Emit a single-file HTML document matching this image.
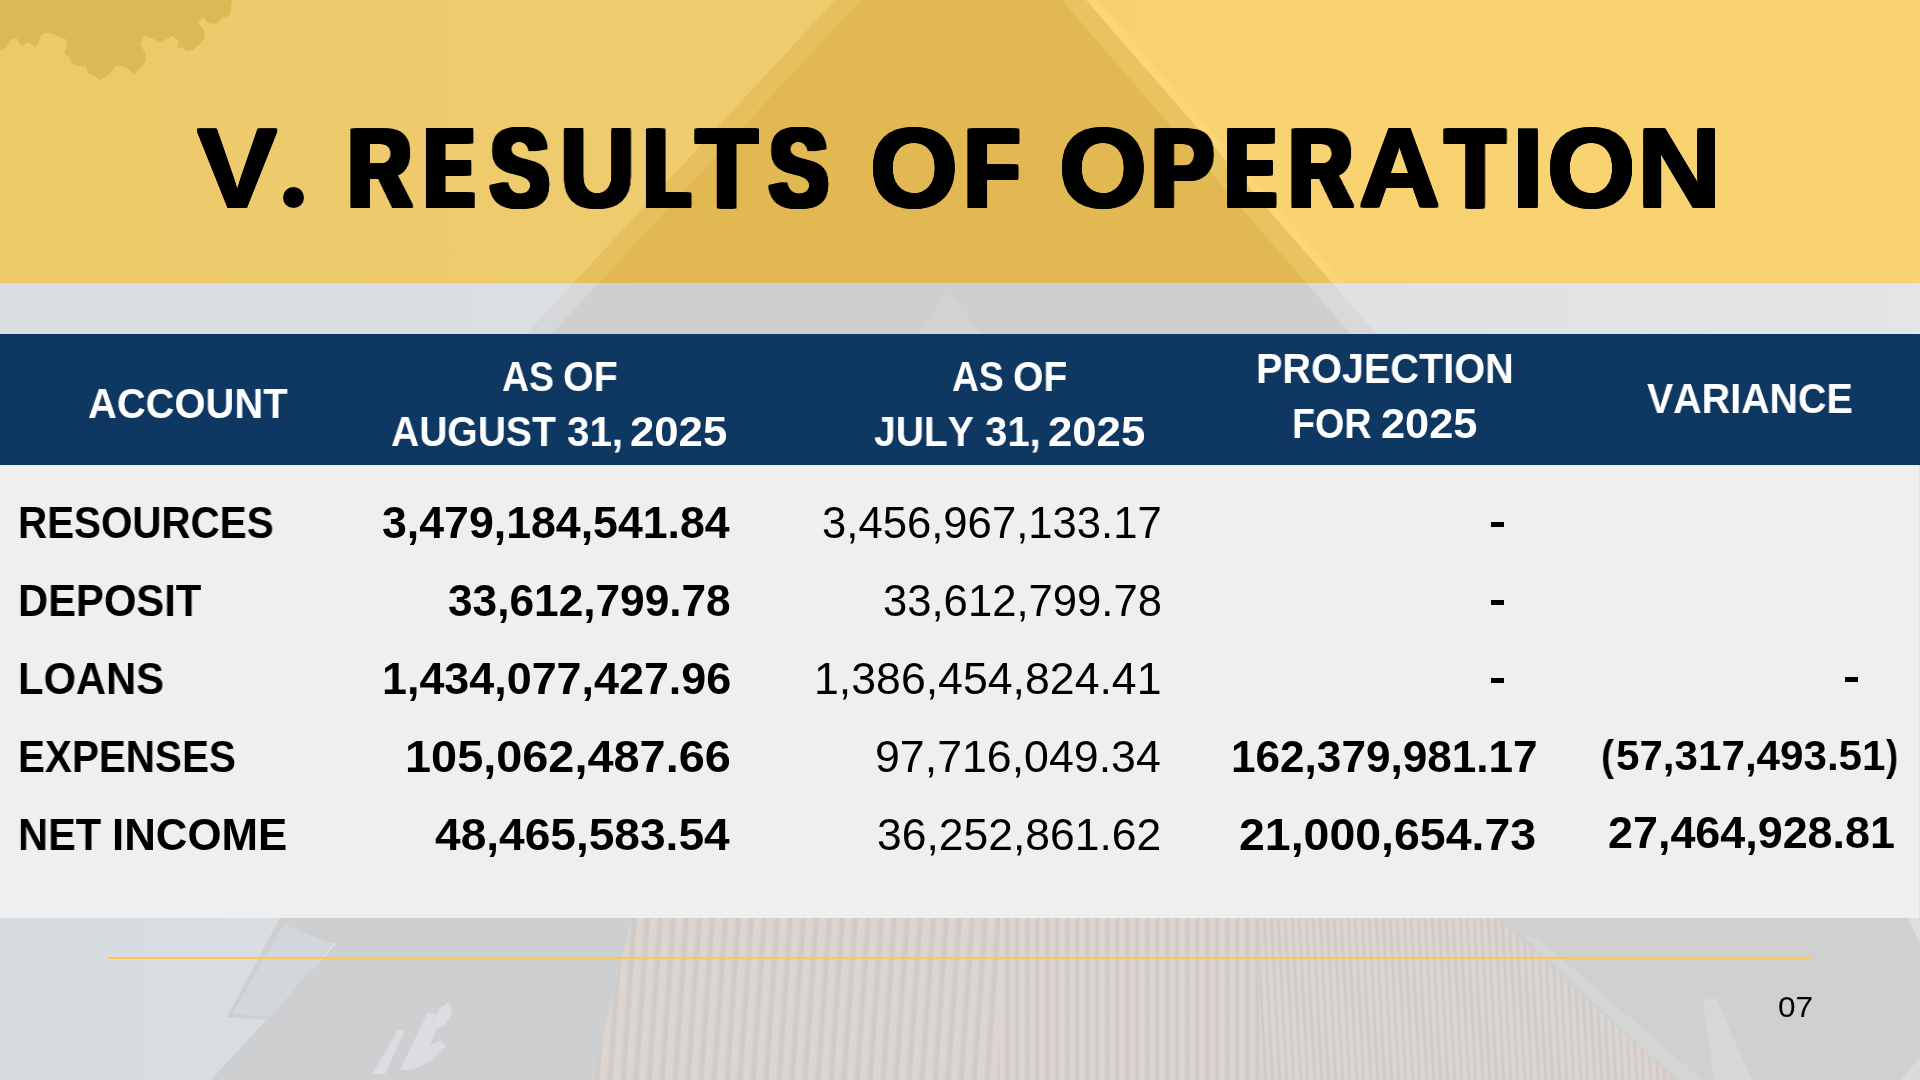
<!DOCTYPE html>
<html lang="en"><head><meta charset="utf-8"><title>V. Results of Operation</title>
<style>
html,body{margin:0;padding:0}
body{width:1920px;height:1080px;overflow:hidden;position:relative;background:#e2e4e6;
 font-family:"Liberation Sans",sans-serif;font-kerning:none;font-variant-ligatures:none;color:#000}
#bg{position:absolute;left:0;top:0;width:1920px;height:1080px;display:block}
#hdr{position:absolute;left:0;top:334px;width:1920px;height:130.6px;background:#0e3762}
#panel{position:absolute;left:0;top:464.6px;width:1918.7px;height:453.4px;background:#efefef}
#rule{position:absolute;left:108px;top:957px;width:1704px;height:2px;background:#fdc94e}
h1{margin:0;padding:0;font-size:0;font-weight:700}
.t{position:absolute;will-change:transform;white-space:pre;transform-origin:0 0;margin:0;padding:0;display:block}
.b{font-weight:700}.r{font-weight:400}.w{color:#fff}
.dot{position:absolute;background:#000;border-radius:50%;color:transparent;font-size:1px;line-height:1;overflow:hidden}
.dash{position:absolute;background:#000;color:transparent;font-size:1px;line-height:1;overflow:hidden}
</style></head>
<body>
<svg id="bg" width="1920" height="1080" viewBox="0 0 1920 1080" aria-hidden="true">
<defs>
<linearGradient id="gBand" x1="0" y1="0" x2="1920" y2="0" gradientUnits="userSpaceOnUse">
<stop offset="0" stop-color="#edc96a"/><stop offset="0.42" stop-color="#efcc6e"/><stop offset="0.6" stop-color="#f8d270"/><stop offset="1" stop-color="#f9d371"/>
</linearGradient>
<linearGradient id="gStrip" x1="0" y1="0" x2="1920" y2="0" gradientUnits="userSpaceOnUse">
<stop offset="0" stop-color="#d9dce0"/><stop offset="0.3" stop-color="#dcdfe2"/><stop offset="0.72" stop-color="#e0e1e2"/><stop offset="1" stop-color="#e4e5e6"/>
</linearGradient>
<linearGradient id="gSky" x1="0" y1="0" x2="340" y2="0" gradientUnits="userSpaceOnUse">
<stop offset="0" stop-color="#d6dbe0"/><stop offset="1" stop-color="#dadee2"/>
</linearGradient>
<linearGradient id="gSl" x1="0" y1="0" x2="1" y2="0"><stop offset="0" stop-color="#ddd6d0"/><stop offset="0.42" stop-color="#dcd5cf"/><stop offset="0.62" stop-color="#d0cbc8"/><stop offset="0.88" stop-color="#d0cbc8"/><stop offset="1" stop-color="#ddd6d0"/></linearGradient>
<pattern id="slatA" width="13" height="10" patternUnits="userSpaceOnUse" patternTransform="skewX(-4)">
<rect width="13" height="10" fill="url(#gSl)"/>
</pattern>
<pattern id="slatB" width="10" height="10" patternUnits="userSpaceOnUse">
<rect width="10" height="10" fill="url(#gSl)"/>
</pattern>
<pattern id="slatC" width="7" height="10" patternUnits="userSpaceOnUse" patternTransform="skewX(3)">
<rect width="7" height="10" fill="url(#gSl)"/>
</pattern>
</defs>
<!-- yellow title band over faded photo -->
<rect x="0" y="0" width="1920" height="283.5" fill="url(#gBand)"/>
<polygon points="825,0 835,0 573,283.5 563,283.5" fill="#eecc6e"/>
<polygon points="1086,0 1097,0 1344,283.5 1332.6,283.5" fill="#fad676"/>
<polygon points="835,0 860,0 598,283.5 573,283.5" fill="#e7c05d"/>
<polygon points="1062,0 1086,0 1332.6,283.5 1307,283.5" fill="#e9c35f"/>
<polygon points="860,0 1062,0 1307,283.5 598,283.5" fill="#e1b851"/>
<!-- foliage, top-left -->
<path id="leaf" fill="#ddb955" d="M0,0 L232,0 L231,8 L229,16 L222,18 L216,24 L208,23 L203,17 L198,22 L204,30 L205,37 L200,44 L193,50 L187,51 L181,47 L177,49 L179,41 L172,36 L165,40 L160,43 L152,38 L143,36 L140,45 L145,52 L146,61 L140,68 L134,74 L129,70 L123,66 L116,66 L110,74 L103,78 L99,81 L95,76 L88,73 L86,67 L78,66 L72,64 L70,58 L64,53 L66,47 L67,40 L58,36 L50,33 L44,33 L40,37 L38,44 L35,47 L28,42 L22,46 L18,42 L17,38 L10,40 L5,48 L0,51 Z"/>
<!-- pale strip between band and table header -->
<rect x="0" y="283.5" width="1920" height="51" fill="url(#gStrip)"/>
<polygon points="573,283.5 598,283.5 551,334.5 526,334.5" fill="#d6d7d9"/>
<polygon points="1307,283.5 1332.6,283.5 1377,334.5 1351,334.5" fill="#d9d9da"/>
<polygon points="598,283.5 1307,283.5 1351,334.5 551,334.5" fill="#cfcfcf"/>
<polygon points="948,292 918,334.5 982,334.5" fill="#d3d3d3"/>
<!-- footer: faded building photo -->
<rect x="0" y="918" width="1920" height="162" fill="#d0d0d0"/>
<rect x="0" y="918" width="345" height="162" fill="url(#gSky)"/>
<polygon points="280,918 640,918 600,1080 211,1080 337,943 333,943 270,1020 227,1017" fill="#cecfd1"/>
<polygon points="284,924 331,944 271,1017 232,1014" fill="#d3d7db"/>
<path d="M372,1074 L398,1030 L405,1030 L385,1074 Z M400,1070 L428,1012 L436,1014 L424,1040 L440,1008 L449,1002 L452,1012 L446,1024 L436,1030 L430,1046 L440,1040 L446,1046 L430,1062 L412,1070 Z" fill="#dcdde0"/>
<polygon points="632,918 1000,918 1000,1080 592,1080" fill="url(#slatA)"/>
<rect x="1000" y="918" width="260" height="162" fill="url(#slatB)"/>
<polygon points="1260,918 1496,918 1676,1080 1260,1080" fill="url(#slatC)"/>
<polygon points="1522,935 1540,940 1702,1080 1678,1080" fill="#d4d6d6"/>
<polygon points="1703,1000 1716,998 1752,1080 1714,1080" fill="#d6d8d8"/>
<polygon points="1900,1080 1920,1058 1920,1080" fill="#dadcdc"/>
<polygon points="1908,918 1920,918 1920,944" fill="#dddfdf"/>
</svg>

<div id="hdr"></div>
<div id="panel"></div>
<div id="rule"></div>
<h1><span class="t b" style="left:197.36px;top:106px;font-size:111.92px;line-height:125px;transform:scaleX(1.0755);text-shadow:0.91px 0px 0 #000,-0.91px 0px 0 #000,0.00px -2px 0 #000,0.91px -2px 0 #000,-0.91px -2px 0 #000,0.00px 1px 0 #000,0.91px 1px 0 #000,-0.91px 1px 0 #000,0.00px -1px 0 #000,0.91px -1px 0 #000,-0.91px -1px 0 #000">V</span><span class="dot" style="left:282.8px;top:186.6px;width:21.4px;height:21.4px">.</span> <span class="t b" style="left:347.72px;top:106px;font-size:111.92px;line-height:125px;transform:scaleX(0.7866);text-shadow:2.10px 0px 0 #000,4.21px 0px 0 #000,-2.10px 0px 0 #000,-4.21px 0px 0 #000,0.00px -2px 0 #000,2.10px -2px 0 #000,4.21px -2px 0 #000,-2.10px -2px 0 #000,-4.21px -2px 0 #000,0.00px 1px 0 #000,2.10px 1px 0 #000,4.21px 1px 0 #000,-2.10px 1px 0 #000,-4.21px 1px 0 #000,0.00px -1px 0 #000,2.10px -1px 0 #000,4.21px -1px 0 #000,-2.10px -1px 0 #000,-4.21px -1px 0 #000">R</span><span class="t b" style="left:425.56px;top:106px;font-size:111.92px;line-height:125px;transform:scaleX(0.6235);text-shadow:2.47px 0px 0 #000,4.94px 0px 0 #000,7.42px 0px 0 #000,-2.47px 0px 0 #000,-4.94px 0px 0 #000,-7.42px 0px 0 #000,0.00px -2px 0 #000,2.47px -2px 0 #000,4.94px -2px 0 #000,7.42px -2px 0 #000,-2.47px -2px 0 #000,-4.94px -2px 0 #000,-7.42px -2px 0 #000,0.00px 1px 0 #000,2.47px 1px 0 #000,4.94px 1px 0 #000,7.42px 1px 0 #000,-2.47px 1px 0 #000,-4.94px 1px 0 #000,-7.42px 1px 0 #000,0.00px -1px 0 #000,2.47px -1px 0 #000,4.94px -1px 0 #000,7.42px -1px 0 #000,-2.47px -1px 0 #000,-4.94px -1px 0 #000,-7.42px -1px 0 #000">E</span><span class="t b" style="left:489.55px;top:106px;font-size:111.92px;line-height:125px;transform:scaleX(0.7971);text-shadow:2.02px 0px 0 #000,4.05px 0px 0 #000,-2.02px 0px 0 #000,-4.05px 0px 0 #000,0.00px -2px 0 #000,2.02px -2px 0 #000,4.05px -2px 0 #000,-2.02px -2px 0 #000,-4.05px -2px 0 #000,0.00px 1px 0 #000,2.02px 1px 0 #000,4.05px 1px 0 #000,-2.02px 1px 0 #000,-4.05px 1px 0 #000,0.00px -1px 0 #000,2.02px -1px 0 #000,4.05px -1px 0 #000,-2.02px -1px 0 #000,-4.05px -1px 0 #000">S</span><span class="t b" style="left:559.55px;top:106px;font-size:111.92px;line-height:125px;transform:scaleX(0.9267);text-shadow:2.35px 0px 0 #000,-2.35px 0px 0 #000,0.00px -2px 0 #000,2.35px -2px 0 #000,-2.35px -2px 0 #000,0.00px 1px 0 #000,2.35px 1px 0 #000,-2.35px 1px 0 #000,0.00px -1px 0 #000,2.35px -1px 0 #000,-2.35px -1px 0 #000">U</span><span class="t b" style="left:645.54px;top:106px;font-size:111.92px;line-height:125px;transform:scaleX(0.6245);text-shadow:2.46px 0px 0 #000,4.93px 0px 0 #000,7.39px 0px 0 #000,-2.46px 0px 0 #000,-4.93px 0px 0 #000,-7.39px 0px 0 #000,0.00px -2px 0 #000,2.46px -2px 0 #000,4.93px -2px 0 #000,7.39px -2px 0 #000,-2.46px -2px 0 #000,-4.93px -2px 0 #000,-7.39px -2px 0 #000,0.00px 1px 0 #000,2.46px 1px 0 #000,4.93px 1px 0 #000,7.39px 1px 0 #000,-2.46px 1px 0 #000,-4.93px 1px 0 #000,-7.39px 1px 0 #000,0.00px -1px 0 #000,2.46px -1px 0 #000,4.93px -1px 0 #000,7.39px -1px 0 #000,-2.46px -1px 0 #000,-4.93px -1px 0 #000,-7.39px -1px 0 #000">L</span><span class="t b" style="left:696.37px;top:106px;font-size:111.92px;line-height:125px;transform:scaleX(0.8999);text-shadow:1.33px 0px 0 #000,2.66px 0px 0 #000,-1.33px 0px 0 #000,-2.66px 0px 0 #000,0.00px -2px 0 #000,1.33px -2px 0 #000,2.66px -2px 0 #000,-1.33px -2px 0 #000,-2.66px -2px 0 #000,0.00px 1px 0 #000,1.33px 1px 0 #000,2.66px 1px 0 #000,-1.33px 1px 0 #000,-2.66px 1px 0 #000,0.00px -1px 0 #000,1.33px -1px 0 #000,2.66px -1px 0 #000,-1.33px -1px 0 #000,-2.66px -1px 0 #000">T</span><span class="t b" style="left:768.85px;top:106px;font-size:111.92px;line-height:125px;transform:scaleX(0.7971);text-shadow:2.02px 0px 0 #000,4.05px 0px 0 #000,-2.02px 0px 0 #000,-4.05px 0px 0 #000,0.00px -2px 0 #000,2.02px -2px 0 #000,4.05px -2px 0 #000,-2.02px -2px 0 #000,-4.05px -2px 0 #000,0.00px 1px 0 #000,2.02px 1px 0 #000,4.05px 1px 0 #000,-2.02px 1px 0 #000,-4.05px 1px 0 #000,0.00px -1px 0 #000,2.02px -1px 0 #000,4.05px -1px 0 #000,-2.02px -1px 0 #000,-4.05px -1px 0 #000">S</span> <span class="t b" style="left:869.78px;top:106px;font-size:111.92px;line-height:125px;transform:scaleX(1.0090);text-shadow:1.50px 0px 0 #000,-1.50px 0px 0 #000,0.00px -2px 0 #000,1.50px -2px 0 #000,-1.50px -2px 0 #000,0.00px 1px 0 #000,1.50px 1px 0 #000,-1.50px 1px 0 #000,0.00px -1px 0 #000,1.50px -1px 0 #000,-1.50px -1px 0 #000">O</span><span class="t b" style="left:964.78px;top:106px;font-size:111.92px;line-height:125px;transform:scaleX(0.7895);text-shadow:2.08px 0px 0 #000,4.16px 0px 0 #000,-2.08px 0px 0 #000,-4.16px 0px 0 #000,0.00px -2px 0 #000,2.08px -2px 0 #000,4.16px -2px 0 #000,-2.08px -2px 0 #000,-4.16px -2px 0 #000,0.00px 1px 0 #000,2.08px 1px 0 #000,4.16px 1px 0 #000,-2.08px 1px 0 #000,-4.16px 1px 0 #000,0.00px -1px 0 #000,2.08px -1px 0 #000,4.16px -1px 0 #000,-2.08px -1px 0 #000,-4.16px -1px 0 #000">F</span> <span class="t b" style="left:1058.58px;top:106px;font-size:111.92px;line-height:125px;transform:scaleX(1.0090);text-shadow:1.50px 0px 0 #000,-1.50px 0px 0 #000,0.00px -2px 0 #000,1.50px -2px 0 #000,-1.50px -2px 0 #000,0.00px 1px 0 #000,1.50px 1px 0 #000,-1.50px 1px 0 #000,0.00px -1px 0 #000,1.50px -1px 0 #000,-1.50px -1px 0 #000">O</span><span class="t b" style="left:1150.94px;top:106px;font-size:111.92px;line-height:125px;transform:scaleX(0.8429);text-shadow:1.69px 0px 0 #000,3.39px 0px 0 #000,-1.69px 0px 0 #000,-3.39px 0px 0 #000,0.00px -2px 0 #000,1.69px -2px 0 #000,3.39px -2px 0 #000,-1.69px -2px 0 #000,-3.39px -2px 0 #000,0.00px 1px 0 #000,1.69px 1px 0 #000,3.39px 1px 0 #000,-1.69px 1px 0 #000,-3.39px 1px 0 #000,0.00px -1px 0 #000,1.69px -1px 0 #000,3.39px -1px 0 #000,-1.69px -1px 0 #000,-3.39px -1px 0 #000">P</span><span class="t b" style="left:1227.06px;top:106px;font-size:111.92px;line-height:125px;transform:scaleX(0.6364);text-shadow:2.37px 0px 0 #000,4.74px 0px 0 #000,7.10px 0px 0 #000,-2.37px 0px 0 #000,-4.74px 0px 0 #000,-7.10px 0px 0 #000,0.00px -2px 0 #000,2.37px -2px 0 #000,4.74px -2px 0 #000,7.10px -2px 0 #000,-2.37px -2px 0 #000,-4.74px -2px 0 #000,-7.10px -2px 0 #000,0.00px 1px 0 #000,2.37px 1px 0 #000,4.74px 1px 0 #000,7.10px 1px 0 #000,-2.37px 1px 0 #000,-4.74px 1px 0 #000,-7.10px 1px 0 #000,0.00px -1px 0 #000,2.37px -1px 0 #000,4.74px -1px 0 #000,7.10px -1px 0 #000,-2.37px -1px 0 #000,-4.74px -1px 0 #000,-7.10px -1px 0 #000">E</span><span class="t b" style="left:1288.52px;top:106px;font-size:111.92px;line-height:125px;transform:scaleX(0.7866);text-shadow:2.10px 0px 0 #000,4.21px 0px 0 #000,-2.10px 0px 0 #000,-4.21px 0px 0 #000,0.00px -2px 0 #000,2.10px -2px 0 #000,4.21px -2px 0 #000,-2.10px -2px 0 #000,-4.21px -2px 0 #000,0.00px 1px 0 #000,2.10px 1px 0 #000,4.21px 1px 0 #000,-2.10px 1px 0 #000,-4.21px 1px 0 #000,0.00px -1px 0 #000,2.10px -1px 0 #000,4.21px -1px 0 #000,-2.10px -1px 0 #000,-4.21px -1px 0 #000">R</span><span class="t b" style="left:1359.48px;top:106px;font-size:111.92px;line-height:125px;transform:scaleX(1.0023);text-shadow:1.57px 0px 0 #000,-1.57px 0px 0 #000,0.00px -2px 0 #000,1.57px -2px 0 #000,-1.57px -2px 0 #000,0.00px 1px 0 #000,1.57px 1px 0 #000,-1.57px 1px 0 #000,0.00px -1px 0 #000,1.57px -1px 0 #000,-1.57px -1px 0 #000">A</span><span class="t b" style="left:1444.97px;top:106px;font-size:111.92px;line-height:125px;transform:scaleX(0.8778);text-shadow:1.47px 0px 0 #000,2.93px 0px 0 #000,-1.47px 0px 0 #000,-2.93px 0px 0 #000,0.00px -2px 0 #000,1.47px -2px 0 #000,2.93px -2px 0 #000,-1.47px -2px 0 #000,-2.93px -2px 0 #000,0.00px 1px 0 #000,1.47px 1px 0 #000,2.93px 1px 0 #000,-1.47px 1px 0 #000,-2.93px 1px 0 #000,0.00px -1px 0 #000,1.47px -1px 0 #000,2.93px -1px 0 #000,-1.47px -1px 0 #000,-2.93px -1px 0 #000">T</span><span class="t b" style="left:1508.64px;top:106px;font-size:111.92px;line-height:125px;transform:scaleX(1.2096);text-shadow:0.00px -2px 0 #000,0.00px 1px 0 #000,0.00px -1px 0 #000">I</span><span class="t b" style="left:1546.52px;top:106px;font-size:111.92px;line-height:125px;transform:scaleX(1.0139);text-shadow:1.46px 0px 0 #000,-1.46px 0px 0 #000,0.00px -2px 0 #000,1.46px -2px 0 #000,-1.46px -2px 0 #000,0.00px 1px 0 #000,1.46px 1px 0 #000,-1.46px 1px 0 #000,0.00px -1px 0 #000,1.46px -1px 0 #000,-1.46px -1px 0 #000">O</span><span class="t b" style="left:1637.07px;top:106px;font-size:111.92px;line-height:125px;transform:scaleX(1.0468);text-shadow:1.16px 0px 0 #000,-1.16px 0px 0 #000,0.00px -2px 0 #000,1.16px -2px 0 #000,-1.16px -2px 0 #000,0.00px 1px 0 #000,1.16px 1px 0 #000,-1.16px 1px 0 #000,0.00px -1px 0 #000,1.16px -1px 0 #000,-1.16px -1px 0 #000">N</span></h1>
<div id="thead">
<span class="t b w" style="left:87.76px;top:380px;font-size:42.15px;line-height:47px;transform:scaleX(0.9475)">ACCOUNT</span>
<span class="t b w" style="left:501.57px;top:353px;font-size:42.15px;line-height:47px;transform:scaleX(0.8862)">AS</span> <span class="t b w" style="left:563.38px;top:353px;font-size:42.15px;line-height:47px;transform:scaleX(0.9364)">OF</span>
<span class="t b w" style="left:391.03px;top:408px;font-size:42.15px;line-height:47px;transform:scaleX(0.9265)">AUGUST</span> <span class="t b w" style="left:566.57px;top:408px;font-size:42.15px;line-height:47px;transform:scaleX(0.9579)">31,</span> <span class="t b w" style="left:630.23px;top:408px;font-size:42.15px;line-height:47px;transform:scaleX(1.0369)">2025</span>
<span class="t b w" style="left:951.57px;top:353px;font-size:42.15px;line-height:47px;transform:scaleX(0.8817)">AS</span> <span class="t b w" style="left:1013.40px;top:353px;font-size:42.15px;line-height:47px;transform:scaleX(0.9274)">OF</span>
<span class="t b w" style="left:873.66px;top:408px;font-size:42.15px;line-height:47px;transform:scaleX(0.9278)">JULY</span> <span class="t b w" style="left:984.83px;top:408px;font-size:42.15px;line-height:47px;transform:scaleX(0.9533)">31,</span> <span class="t b w" style="left:1048.48px;top:408px;font-size:42.15px;line-height:47px;transform:scaleX(1.0369)">2025</span>
<span class="t b w" style="left:1256.10px;top:345px;font-size:42.15px;line-height:47px;transform:scaleX(0.9409)">PROJECTION</span>
<span class="t b w" style="left:1292.48px;top:400px;font-size:42.15px;line-height:47px;transform:scaleX(0.8940)">FOR</span> <span class="t b w" style="left:1381.00px;top:400px;font-size:42.15px;line-height:47px;transform:scaleX(1.0287)">2025</span>
<span class="t b w" style="left:1646.93px;top:375px;font-size:42.15px;line-height:47px;transform:scaleX(0.9349)">VARIANCE</span>
</div>
<div id="tbody">
<span class="t b" style="left:18.00px;top:499px;font-size:43.61px;line-height:48px;transform:scaleX(0.9253)">RESOURCES</span>
<span class="t b" style="left:17.91px;top:577px;font-size:43.61px;line-height:48px;transform:scaleX(0.9576)">DEPOSIT</span>
<span class="t b" style="left:17.91px;top:655px;font-size:43.61px;line-height:48px;transform:scaleX(0.9568)">LOANS</span>
<span class="t b" style="left:18.00px;top:733px;font-size:43.61px;line-height:48px;transform:scaleX(0.9268)">EXPENSES</span>
<span class="t b" style="left:17.92px;top:811px;font-size:43.61px;line-height:48px;transform:scaleX(0.9544)">NET</span> <span class="t b" style="left:111.77px;top:811px;font-size:43.61px;line-height:48px;transform:scaleX(1.0053)">INCOME</span>
<span class="t b" style="left:381.88px;top:499px;font-size:43.61px;line-height:48px;transform:scaleX(1.0241)">3,479,184,541.84</span>
<span class="t b" style="left:447.99px;top:577px;font-size:43.61px;line-height:48px;transform:scaleX(1.0137)">33,612,799.78</span>
<span class="t b" style="left:381.78px;top:655px;font-size:43.61px;line-height:48px;transform:scaleX(1.0285)">1,434,077,427.96</span>
<span class="t b" style="left:405.25px;top:733px;font-size:43.61px;line-height:48px;transform:scaleX(1.0747)">105,062,487.66</span>
<span class="t b" style="left:434.90px;top:811px;font-size:43.61px;line-height:48px;transform:scaleX(1.0566)">48,465,583.54</span>
<span class="t r" style="left:821.74px;top:499px;font-size:43.61px;line-height:48px;transform:scaleX(1.0008)">3,456,967,133.17</span>
<span class="t r" style="left:882.64px;top:577px;font-size:43.61px;line-height:48px;transform:scaleX(0.9989)">33,612,799.78</span>
<span class="t r" style="left:814.00px;top:655px;font-size:43.61px;line-height:48px;transform:scaleX(1.0236)">1,386,454,824.41</span>
<span class="t r" style="left:874.81px;top:733px;font-size:43.61px;line-height:48px;transform:scaleX(1.0249)">97,716,049.34</span>
<span class="t r" style="left:877.31px;top:811px;font-size:43.61px;line-height:48px;transform:scaleX(1.0193)">36,252,861.62</span>
<span class="t b" style="left:1231.32px;top:733px;font-size:43.61px;line-height:48px;transform:scaleX(1.0116)">162,379,981.17</span>
<span class="t b" style="left:1238.89px;top:811px;font-size:43.61px;line-height:48px;transform:scaleX(1.0654)">21,000,654.73</span>
<span class="t b" style="left:1601.06px;top:732px;font-size:42.15px;line-height:47px;transform:scaleX(0.9247)">(</span><span class="t b" style="left:1616.10px;top:732px;font-size:42.15px;line-height:47px;transform:scaleX(0.9997)">57,317,493.51</span><span class="t b" style="left:1886.26px;top:732px;font-size:42.15px;line-height:47px;transform:scaleX(0.8658)">)</span>
<span class="t b" style="left:1608.24px;top:809px;font-size:43.61px;line-height:48px;transform:scaleX(1.0289)">27,464,928.81</span>
<span class="dash" style="left:1491.1px;top:521.75px;width:12.8px;height:5.15px">-</span>
<span class="dash" style="left:1491.1px;top:599.75px;width:12.8px;height:5.15px">-</span>
<span class="dash" style="left:1491.1px;top:677.75px;width:12.8px;height:5.15px">-</span>
<span class="dash" style="left:1845.2px;top:676.75px;width:12.8px;height:5.25px">-</span>
</div>
<span class="t r" style="left:1777.77px;top:991px;font-size:29.07px;line-height:32px;transform:scaleX(1.0862)">07</span>
</body></html>
